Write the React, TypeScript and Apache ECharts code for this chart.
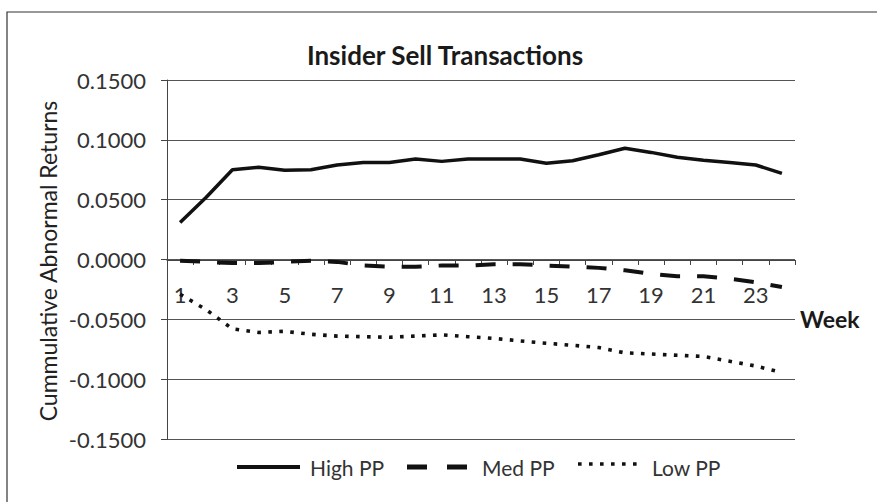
import React, { useEffect, useRef } from "react";
import * as echarts from "echarts";

const weeks = Array.from({ length: 24 }, (_, i) => String(i + 1));
const highPP = [0.031, 0.052, 0.075, 0.077, 0.0745, 0.075, 0.079, 0.081, 0.081, 0.084, 0.082, 0.084, 0.084, 0.084, 0.0805, 0.0825, 0.0875, 0.093, 0.0895, 0.0855, 0.083, 0.081, 0.079, 0.072];
const medPP = [-0.001, -0.002, -0.003, -0.003, -0.002, -0.001, -0.002, -0.005, -0.006, -0.006, -0.005, -0.005, -0.004, -0.004, -0.005, -0.006, -0.007, -0.009, -0.012, -0.014, -0.014, -0.016, -0.019, -0.023];
const lowPP = [-0.029, -0.042, -0.058, -0.061, -0.06, -0.0625, -0.064, -0.0645, -0.065, -0.064, -0.063, -0.0645, -0.066, -0.068, -0.07, -0.0717, -0.0736, -0.078, -0.079, -0.08, -0.081, -0.085, -0.089, -0.0945];
const seriesNames = ["High PP", "Med PP", "Low PP"];

const FONT = "Lato";
const INK = "#111";

export default function App() {
  const ref = useRef<HTMLDivElement>(null);
  useEffect(() => {
    if (!ref.current) return;
    const chart = echarts.init(ref.current, undefined, { renderer: "svg" });
    const legendY = 467;
    chart.setOption({
      animation: false,
      backgroundColor: "#ffffff",
      textStyle: { fontFamily: FONT },
      title: {
        text: "Insider Sell Transactions",
        left: 440,
        textAlign: "center",
        top: 37,
        textStyle: { fontFamily: FONT, fontSize: 26, fontWeight: "bold", color: "#1a1a1a" },
      },
      grid: { left: 167, right: 82, top: 80, bottom: 63 },
      xAxis: {
        type: "category",
        data: weeks,
        boundaryGap: true,
        offset: -179,
        axisLine: { onZero: false, lineStyle: { color: "#444", width: 1 } },
        axisTick: { show: true, interval: 0, length: 5, lineStyle: { color: "#444" } },
        axisLabel: { interval: 1, margin: 23, fontSize: 22, color: "#333", fontFamily: FONT },
        splitLine: { show: false },
      },
      yAxis: {
        type: "value",
        min: -0.15,
        max: 0.15,
        interval: 0.05,
        axisLine: { show: true, lineStyle: { color: "#444", width: 1 } },
        axisTick: { show: true, length: 6, lineStyle: { color: "#444" } },
        axisLabel: {
          fontSize: 22,
          color: "#333",
          fontFamily: FONT,
          margin: 21,
          formatter: (v: number) => v.toFixed(4),
        },
        splitLine: { show: true, lineStyle: { color: "#555", width: 1 } },
      },
      series: [
        {
          name: seriesNames[0],
          type: "line",
          data: highPP,
          symbol: "none",
          lineStyle: { color: INK, width: 3.5, type: "solid" },
        },
        {
          name: seriesNames[1],
          type: "line",
          data: medPP,
          symbol: "none",
          lineStyle: { color: INK, width: 4, type: [20, 17] },
        },
        {
          name: seriesNames[2],
          type: "line",
          data: lowPP,
          symbol: "none",
          lineStyle: { color: INK, width: 3.6, type: [3.6, 7.4] },
        },
      ],
      graphic: [
        {
          type: "text",
          x: 48,
          y: 261,
          rotation: Math.PI / 2,
          style: {
            text: "Cummulative Abnormal Returns",
            fontFamily: FONT,
            fontSize: 23,
            fill: "#222",
            textAlign: "center",
            textVerticalAlign: "middle",
          },
        },
        {
          type: "text",
          x: 800,
          y: 319,
          style: {
            text: "Week",
            fontFamily: FONT,
            fontSize: 23,
            fontWeight: "bold",
            fill: "#1a1a1a",
            textAlign: "left",
            textVerticalAlign: "middle",
          },
        },
        {
          type: "polyline",
          shape: { points: [[7, 510], [7, 12], [877, 12]] },
          style: { stroke: "#333", lineWidth: 1.2, fill: "none" },
        },
        // legend
        {
          type: "line",
          shape: { x1: 237, y1: legendY, x2: 300, y2: legendY },
          style: { stroke: INK, lineWidth: 4 },
        },
        {
          type: "text",
          x: 310,
          y: legendY,
          style: { text: seriesNames[0], fontFamily: FONT, fontSize: 21, fill: "#333", textAlign: "left", textVerticalAlign: "middle" },
        },
        {
          type: "line",
          shape: { x1: 407, y1: legendY, x2: 467, y2: legendY },
          style: { stroke: INK, lineWidth: 5, lineDash: [20, 20] },
        },
        {
          type: "text",
          x: 482,
          y: legendY,
          style: { text: seriesNames[1], fontFamily: FONT, fontSize: 21, fill: "#333", textAlign: "left", textVerticalAlign: "middle" },
        },
        {
          type: "line",
          shape: { x1: 578, y1: legendY - 3, x2: 640, y2: legendY - 3 },
          style: { stroke: INK, lineWidth: 3.6, lineDash: [3.6, 7.4] },
        },
        {
          type: "text",
          x: 652,
          y: legendY,
          style: { text: seriesNames[2], fontFamily: FONT, fontSize: 21, fill: "#333", textAlign: "left", textVerticalAlign: "middle" },
        },
      ],
    });
    return () => chart.dispose();
  }, []);
  return <div ref={ref} style={{ position: "fixed", left: 0, top: 0, width: 877, height: 502 }} />;
}
